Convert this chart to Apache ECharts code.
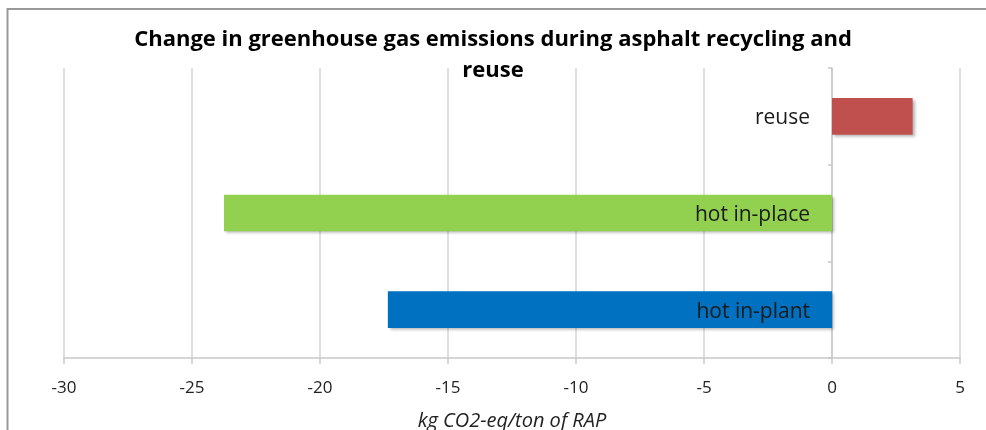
<!DOCTYPE html>
<html>
<head>
<meta charset="utf-8">
<script src="https://cdn.jsdelivr.net/npm/echarts@6/dist/echarts.min.js"></script>
<style>
  html, body { margin: 0; padding: 0; background: #fff; }
  #chart { width: 986px; height: 430px; }
</style>
</head>
<body>
<div id="chart"></div>
<script>
// data, bottom to top
const categories = ['hot in-plant', 'hot in-place', 'reuse'];
const emissions = [-17.35, -23.75, 3.15];
const barColors = ['#0070c0', '#92d050', '#c0504d'];
const xTicks = { min: -30, max: 5, interval: 5 };

const chart = echarts.init(document.getElementById('chart'));

const option = {
  animation: false,
  textStyle: {
    fontFamily: '"Open Sans", sans-serif',
  },
  title: {
    text: 'Change in greenhouse gas emissions during asphalt recycling and\nreuse',
    left: 'center',
    top: 19,
    textStyle: {
      fontFamily: '"Open Sans", sans-serif',
      fontSize: 22,
      fontWeight: 'bold',
      color: '#000',
      lineHeight: 31,
    },
  },
  graphic: [
    {
      type: 'rect',
      silent: true,
      shape: { x: 7.5, y: 9, width: 1000, height: 500 },
      style: { fill: 'none', stroke: '#999', lineWidth: 2 },
    },
  ],
  grid: {
    left: 64,
    right: 26,
    top: 68,
    bottom: 72,
    containLabel: false,
    outerBoundsMode: 'none',
  },
  xAxis: {
    type: 'value',
    min: xTicks.min,
    max: xTicks.max,
    interval: xTicks.interval,
    name: 'kg CO2-eq/ton of RAP',
    nameLocation: 'middle',
    nameGap: 53,
    nameTextStyle: {
      fontSize: 20,
      fontStyle: 'italic',
      color: '#222',
    },
    axisLine: {
      show: true,
      lineStyle: { color: '#c8c8c8', width: 1.5 },
    },
    axisTick: {
      show: true,
      length: 6,
      lineStyle: { color: '#c8c8c8', width: 1.5 },
    },
    axisLabel: {
      fontSize: 17,
      color: '#222',
      margin: 22,
    },
    splitLine: {
      show: true,
      lineStyle: { color: '#d4d4d4', width: 1.5 },
    },
  },
  yAxis: {
    type: 'category',
    data: categories,
    axisLine: {
      show: true,
      onZero: true,
      lineStyle: { color: '#c8c8c8', width: 1.5 },
    },
    axisTick: {
      show: true,
      length: 4,
      lineStyle: { color: '#c8c8c8', width: 1.5 },
    },
    axisLabel: { show: false },
  },
  series: [
    {
      type: 'bar',
      barWidth: '38%',
      data: emissions.map((value, index) => ({
        value: value,
        itemStyle: { color: barColors[index] },
        label: { position: value < 0 ? 'insideRight' : 'left' },
      })),
      itemStyle: {
        shadowColor: 'rgba(0, 0, 0, 0.3)',
        shadowBlur: 3,
        shadowOffsetX: 2,
        shadowOffsetY: 2,
      },
      label: {
        show: true,
        formatter: '{b}',
        distance: 22,
        offset: [0, 2],
        fontSize: 21,
        color: '#1a1a1a',
      },
    },
  ],
};

chart.setOption(option);
</script>
</body>
</html>
